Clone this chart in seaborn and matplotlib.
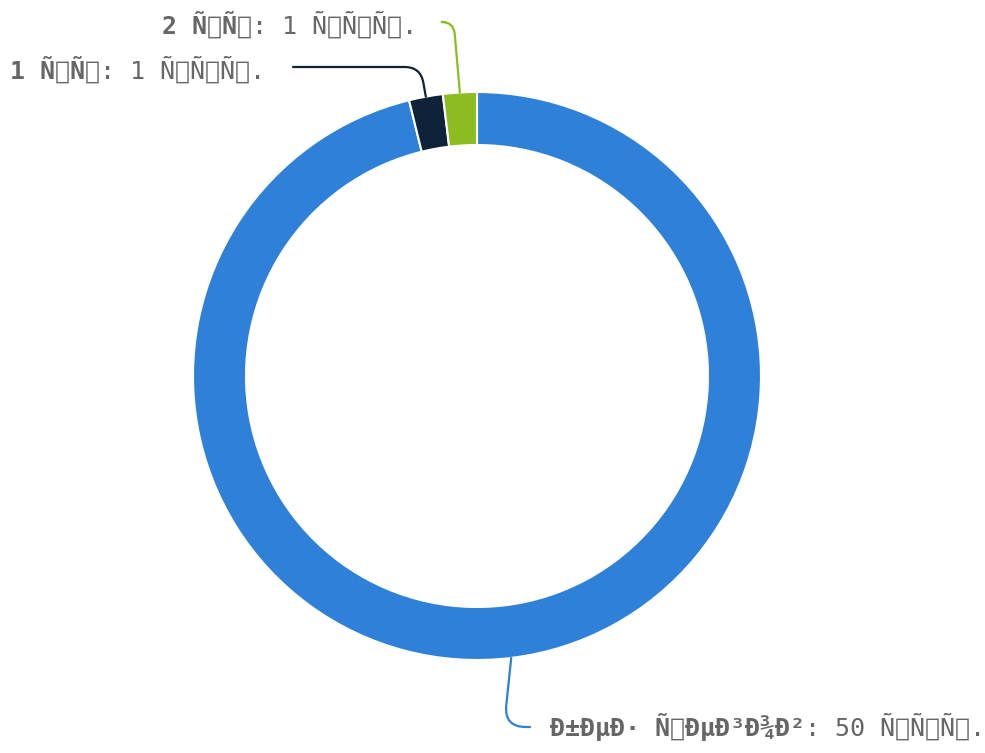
import numpy as np
import matplotlib
matplotlib.use("Agg")
import matplotlib.pyplot as plt
import seaborn as sns


def broken(s):
    # the reference shows UTF-8 Russian text read as Latin-1
    return s.encode("utf-8").decode("latin-1")


categories = [broken("без тегов"), broken("1 ст"), broken("2 ст")]
counts = [50, 1, 1]
units = broken("шту")
colors = ["#2f80d9", "#0e2239", "#8cbc22"]

sns.set_theme(style="white")
plt.rcParams["font.family"] = ["DejaVu Sans Mono", "DejaVu Sans"]

W, H = 985, 753
fig = plt.figure(figsize=(W / 100, H / 100), dpi=100)
ax = fig.add_axes([0, 0, 1, 1])

cx, cy = 477, H - 376
R, ring = 284, 53
fs = 18

wedges, _ = ax.pie(counts, colors=colors, startangle=90, counterclock=False,
                   center=(cx, cy), radius=R,
                   wedgeprops=dict(width=ring, edgecolor="white", linewidth=1.5))
ax.set_xlim(0, W)
ax.set_ylim(0, H)
ax.set_aspect("equal")
ax.axis("off")

# label placement: (line end x, line end y, text side, connection angle, rounding)
layout = [
    (530, H - 727, "right", 84, 22),
    (293, H - 67, "left", 100, 16),
    (445, H - 22, "left", 95, 12),
]

for w, name, n, col, (lx, ly, side, angB, rad) in zip(wedges, categories, counts, colors, layout):
    mid = np.deg2rad((w.theta1 + w.theta2) / 2)
    anchor = (cx + R * np.cos(mid), cy + R * np.sin(mid))
    ax.annotate("", xy=anchor, xytext=(lx, ly),
                arrowprops=dict(arrowstyle="-", color=col, lw=1.6,
                                shrinkA=0, shrinkB=0,
                                connectionstyle=f"angle,angleA=0,angleB={angB},rad={rad}"))
    bold_txt = name
    norm_txt = f": {n} {units}."
    if side == "right":
        t = ax.text(lx + 20, ly, bold_txt, ha="left", va="center", fontsize=fs,
                    fontweight="bold", color="#666666")
        ax.annotate(norm_txt, xy=(1, 0), xycoords=t, ha="left", va="bottom",
                    fontsize=fs, color="#666666")
    else:
        t = ax.text(lx - 28, ly - 3, norm_txt, ha="right", va="center", fontsize=fs,
                    color="#666666")
        ax.annotate(bold_txt, xy=(0, 0), xycoords=t, ha="right", va="bottom",
                    fontsize=fs, fontweight="bold", color="#666666")

fig.savefig("out.png", dpi=100)
